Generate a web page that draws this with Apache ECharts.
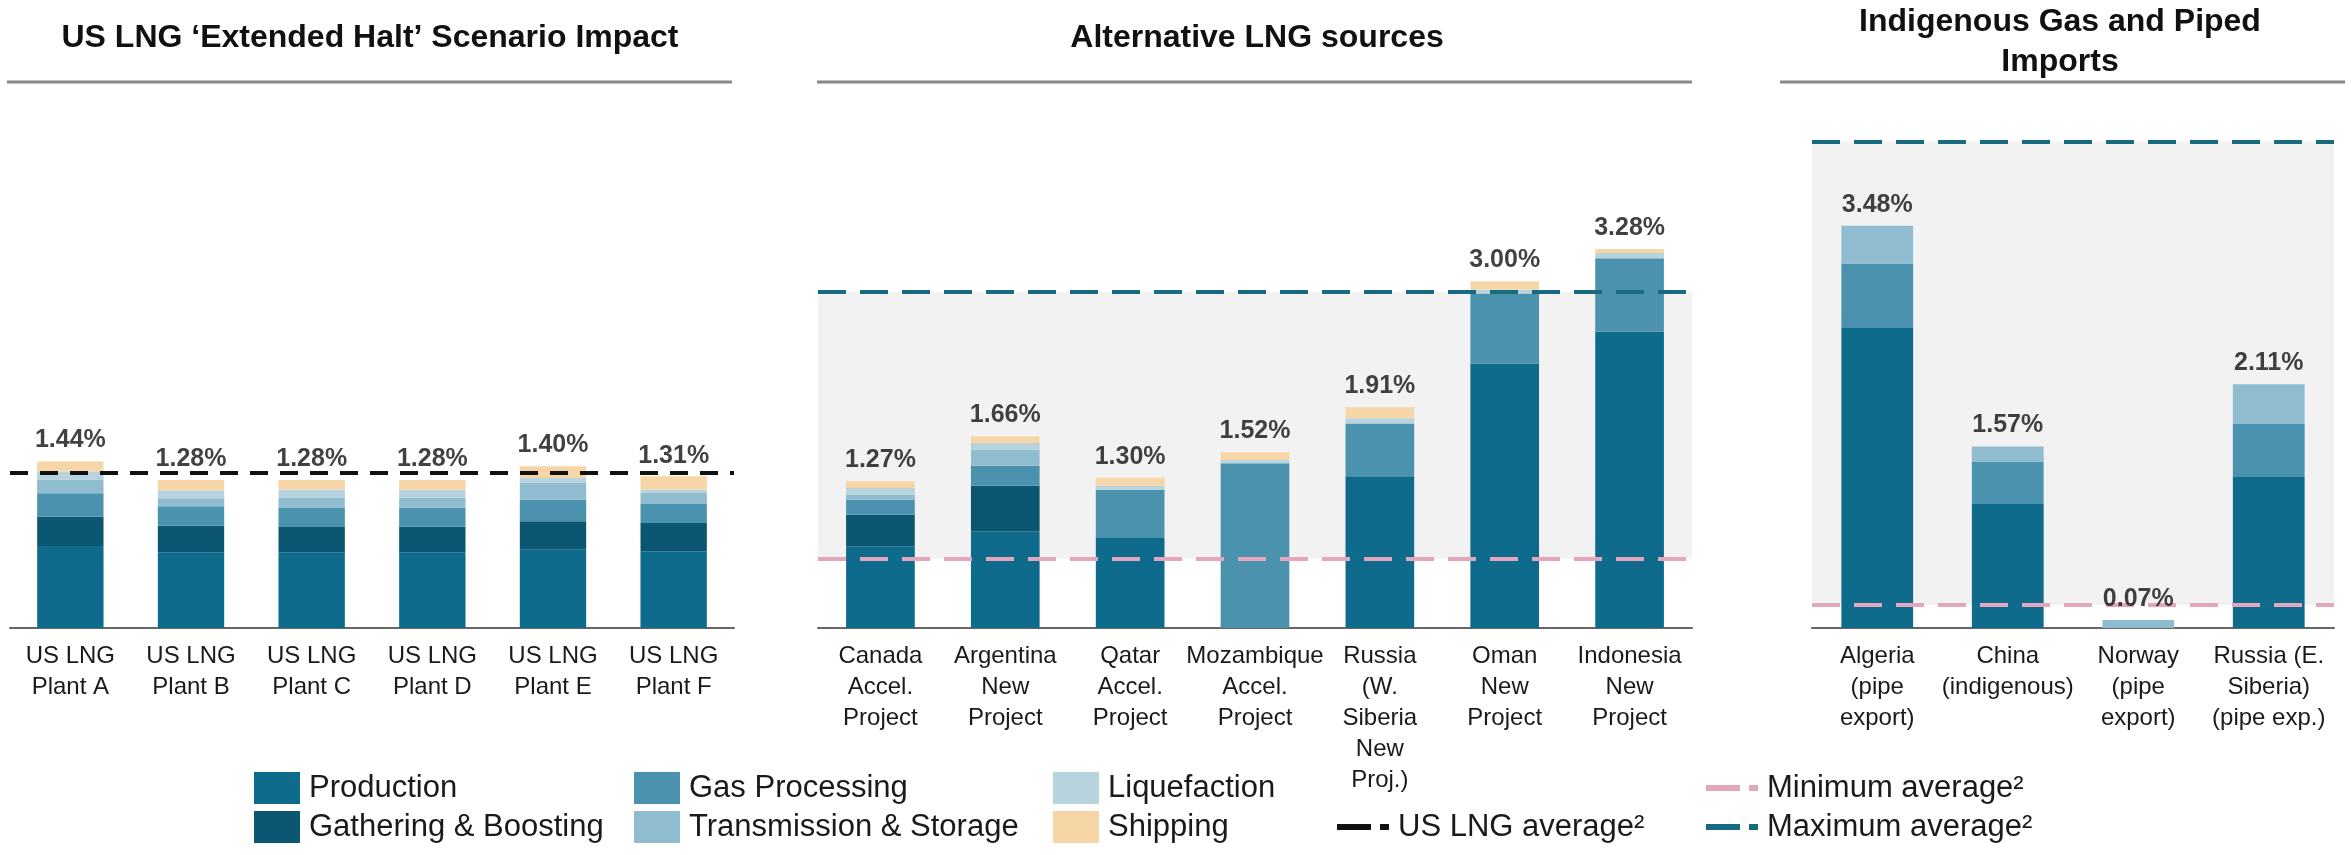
<!DOCTYPE html>
<html>
<head>
<meta charset="utf-8">
<script src="https://cdn.jsdelivr.net/npm/echarts@6/dist/echarts.min.js"></script>
<style>
  html, body { margin: 0; padding: 0; background: #fff; }
  #chart { width: 2351px; height: 855px; }
</style>
</head>
<body>
<div id="chart"></div>
<script>
// categories
const plantCats = ['US LNG\nPlant A', 'US LNG\nPlant B', 'US LNG\nPlant C', 'US LNG\nPlant D', 'US LNG\nPlant E', 'US LNG\nPlant F'];
const altCats = ['Canada\nAccel.\nProject', 'Argentina\nNew\nProject', 'Qatar\nAccel.\nProject', 'Mozambique\nAccel.\nProject',
  'Russia\n(W.\nSiberia\nNew\nProj.)', 'Oman\nNew\nProject', 'Indonesia\nNew\nProject'];
const pipeCats = ['Algeria\n(pipe\nexport)', 'China\n(indigenous)', 'Norway\n(pipe\nexport)', 'Russia (E.\nSiberia)\n(pipe exp.)'];

// US LNG plants, % by stage
const prodL = [0.710, 0.655, 0.655, 0.655, 0.678, 0.664];
const gathL = [0.254, 0.231, 0.219, 0.222, 0.245, 0.245];
const gasL  = [0.202, 0.167, 0.165, 0.165, 0.188, 0.165];
const tsL   = [0.120, 0.070, 0.087, 0.085, 0.144, 0.095];
const liqL  = [0.068, 0.070, 0.072, 0.070, 0.043, 0.029];
const shipL = [0.086, 0.087, 0.082, 0.083, 0.101, 0.115];
const totalL = [1.44, 1.28, 1.28, 1.28, 1.40, 1.31];

// alternative LNG sources
const prodM = [0.707, 0.837, 0.779, 0, 1.313, 2.286, 2.564];
const gathM = [0.274, 0.395, 0, 0, 0, 0, 0];
const gasM  = [0.130, 0.173, 0.418, 1.425, 0.456, 0.609, 0.635];
const tsM   = [0.043, 0.139, 0, 0, 0, 0, 0];
const liqM  = [0.058, 0.058, 0.035, 0.029, 0.046, 0.035, 0.046];
const shipM = [0.058, 0.058, 0.068, 0.066, 0.095, 0.070, 0.035];
const totalM = [1.27, 1.66, 1.30, 1.52, 1.91, 3.00, 3.28];

// indigenous gas and piped imports
const prodR = [2.597, 1.074, 0, 1.307];
const gasR  = [0.557, 0.366, 0, 0.459];
const tsR   = [0.326, 0.130, 0.07, 0.344];
const totalR = [3.48, 1.57, 0.07, 2.11];

// reference averages
const usAvg = 1.34;
const minLng = 0.60, maxLng = 2.91;
const minPipe = 0.20, maxPipe = 4.21;

const FONT = '"Liberation Sans", Arial, sans-serif';
const C = {
  prod: '#0f6b8b', gath: '#0b5670', gas: '#4a92ad', ts: '#8fbdcf', liq: '#b6d3de', ship: '#f6d6a6',
  us: '#111111', min: '#e3a6bd', max: '#176a80', band: '#f2f2f2'
};

function bar(name, data, color, idx, stack) {
  return {
    type: 'bar', name: name, data: data, stack: stack, barWidth: '55%',
    xAxisIndex: idx, yAxisIndex: idx, itemStyle: { color: color }, z: 2
  };
}

function totals(data, idx) {
  return {
    type: 'scatter', name: 'total', data: data, xAxisIndex: idx, yAxisIndex: idx,
    symbolSize: 1, itemStyle: { color: 'rgba(0,0,0,0)' }, z: 6, silent: true,
    label: {
      show: true, position: 'top', distance: 8, fontSize: 25, fontWeight: 'bold', color: '#111', fontFamily: FONT,
      formatter: p => p.value.toFixed(2) + '%'
    }
  };
}

function refLine(name, value, color, dash, width, idx) {
  return {
    type: 'line', name: name, data: [], xAxisIndex: idx, yAxisIndex: idx, z: 5,
    itemStyle: { color: color }, lineStyle: { color: color },
    markLine: {
      silent: true, symbol: ['none', 'none'], label: { show: false },
      lineStyle: { color: color, type: dash, width: width },
      data: [{ yAxis: value }]
    }
  };
}

function band(lo, hi, idx) {
  return {
    type: 'line', name: 'band', data: [], xAxisIndex: idx, yAxisIndex: idx, z: 0,
    markArea: { silent: true, itemStyle: { color: C.band }, data: [[{ yAxis: lo }, { yAxis: hi }]] }
  };
}

const grids = [
  { left: 10, width: 724, top: 108, height: 520 },
  { left: 818, width: 874, top: 108, height: 520 },
  { left: 1812, width: 522, top: 108, height: 520 }
];

const xAxes = [plantCats, altCats, pipeCats].map((cats, i) => ({
  type: 'category', gridIndex: i, data: cats,
  axisLine: { lineStyle: { color: '#666', width: 2 } },
  axisTick: { show: false },
  axisLabel: { interval: 0, fontSize: 24, lineHeight: 31, color: '#1a1a1a', margin: 13, fontFamily: FONT }
}));

const yAxes = [0, 1, 2].map(i => ({ type: 'value', gridIndex: i, min: 0, max: 4.5, show: false }));

const dashIcon = 'path://M0,0H34V6H0ZM43,0H52V6H43Z';
const legendBase = {
  orient: 'vertical', top: 767, itemWidth: 46, itemHeight: 32, itemGap: 7, selectedMode: false, icon: 'rect',
  textStyle: { fontSize: 31, color: '#1a1a1a', fontFamily: FONT, lineHeight: 32, padding: [0, 0, 0, 4] }
};

const option = {
  backgroundColor: '#fff',
  animation: false,
  grid: grids,
  xAxis: xAxes,
  yAxis: yAxes,
  legend: [
    Object.assign({}, legendBase, { left: 249, data: ['Production', 'Gathering & Boosting'] }),
    Object.assign({}, legendBase, { left: 629, data: ['Gas Processing', 'Transmission & Storage'] }),
    Object.assign({}, legendBase, { left: 1048, data: ['Liquefaction', 'Shipping'] }),
    Object.assign({}, legendBase, { left: 1332, top: 806, itemWidth: 52,
      data: [{ name: 'US LNG average²', icon: dashIcon, itemStyle: { color: C.us } }] }),
    Object.assign({}, legendBase, { left: 1701, itemWidth: 52,
      data: [{ name: 'Minimum average²', icon: dashIcon, itemStyle: { color: C.min } },
             { name: 'Maximum average²', icon: dashIcon, itemStyle: { color: C.max } }] })
  ],
  graphic: [
    { type: 'text', x: 370, y: 38, style: { text: 'US LNG ‘Extended Halt’ Scenario Impact', font: 'bold 32px ' + FONT, fill: '#111', align: 'center', verticalAlign: 'middle' } },
    { type: 'text', x: 1257, y: 38, style: { text: 'Alternative LNG sources', font: 'bold 32px ' + FONT, fill: '#111', align: 'center', verticalAlign: 'middle' } },
    { type: 'text', x: 2060, y: 42, style: { text: 'Indigenous Gas and Piped\nImports', font: 'bold 32px ' + FONT, lineHeight: 40, fill: '#111', align: 'center', verticalAlign: 'middle' } },
    { type: 'line', shape: { x1: 7, y1: 82, x2: 732, y2: 82 }, style: { stroke: '#888', lineWidth: 3 } },
    { type: 'line', shape: { x1: 817, y1: 82, x2: 1692, y2: 82 }, style: { stroke: '#888', lineWidth: 3 } },
    { type: 'line', shape: { x1: 1780, y1: 82, x2: 2345, y2: 82 }, style: { stroke: '#888', lineWidth: 3 } }
  ],
  series: [
    // left panel
    bar('Production', prodL, C.prod, 0, 'L'),
    bar('Gathering & Boosting', gathL, C.gath, 0, 'L'),
    bar('Gas Processing', gasL, C.gas, 0, 'L'),
    bar('Transmission & Storage', tsL, C.ts, 0, 'L'),
    bar('Liquefaction', liqL, C.liq, 0, 'L'),
    bar('Shipping', shipL, C.ship, 0, 'L'),
    totals(totalL, 0),
    refLine('US LNG average²', usAvg, C.us, [18, 12], 4, 0),
    // middle panel
    band(minLng, maxLng, 1),
    bar('Production', prodM, C.prod, 1, 'M'),
    bar('Gathering & Boosting', gathM, C.gath, 1, 'M'),
    bar('Gas Processing', gasM, C.gas, 1, 'M'),
    bar('Transmission & Storage', tsM, C.ts, 1, 'M'),
    bar('Liquefaction', liqM, C.liq, 1, 'M'),
    bar('Shipping', shipM, C.ship, 1, 'M'),
    totals(totalM, 1),
    refLine('Minimum average²', minLng, C.min, [28, 14], 4, 1),
    refLine('Maximum average²', maxLng, C.max, [28, 14], 4, 1),
    // right panel
    band(minPipe, maxPipe, 2),
    bar('Production', prodR, C.prod, 2, 'R'),
    bar('Gas Processing', gasR, C.gas, 2, 'R'),
    bar('Transmission & Storage', tsR, C.ts, 2, 'R'),
    totals(totalR, 2),
    refLine('Minimum average²', minPipe, C.min, [28, 14], 4, 2),
    refLine('Maximum average²', maxPipe, C.max, [28, 14], 4, 2)
  ]
};

const chart = echarts.init(document.getElementById('chart'), null, { renderer: 'canvas' });
chart.setOption(option);
</script>
</body>
</html>
